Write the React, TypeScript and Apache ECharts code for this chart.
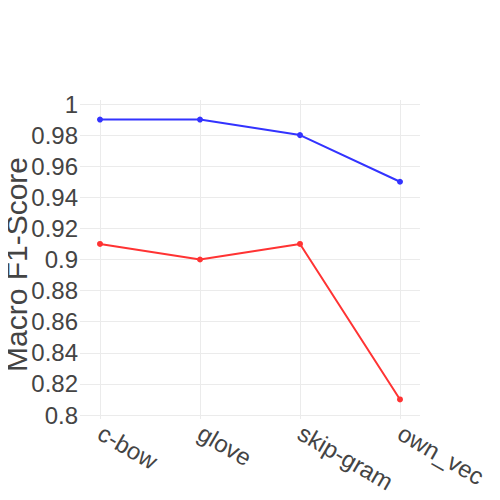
import React, { useEffect, useRef } from "react";
import * as echarts from "echarts";

const categories = ["c-bow", "glove", "skip-gram", "own_vec"];
const blueValues = [0.99, 0.99, 0.98, 0.95];
const redValues = [0.91, 0.9, 0.91, 0.81];
const yTicks = [0.8, 0.82, 0.84, 0.86, 0.88, 0.9, 0.92, 0.94, 0.96, 0.98, 1];
const xTicks = [0, 1, 2, 3];

export default function App() {
  const ref = useRef<HTMLDivElement>(null);
  useEffect(() => {
    if (!ref.current) return;
    const chart = echarts.init(ref.current, null, { renderer: "svg" });
    const font = "Liberation Sans, Arial, sans-serif";
    chart.setOption({
      animation: false,
      backgroundColor: "#fff",
      grid: {
        left: 80,
        right: 80,
        top: 100,
        bottom: 81,
        containLabel: false,
        outerBoundsMode: "none",
      },
      xAxis: {
        type: "value",
        min: -0.2,
        max: 3.2,
        axisLine: { show: false },
        axisTick: { show: false, customValues: xTicks },
        splitLine: { show: true, lineStyle: { color: "#ebebeb", width: 1 } },
        axisLabel: {
          customValues: xTicks,
          rotate: -30,
          margin: 12,
          fontSize: 24,
          color: "#444",
          fontFamily: font,
          formatter: (v: number) => categories[Math.round(v)] ?? "",
        },
      },
      yAxis: {
        type: "value",
        min: 0.8 - 4 / 1555,
        max: 1 + 4 / 1555,
        name: "Macro F1-Score",
        nameLocation: "middle",
        nameGap: 49,
        nameMoveOverlap: false,
        nameTextStyle: {
          fontSize: 30,
          color: "#444",
          fontFamily: font,
          padding: [0, 10, 0, 0],
        },
        axisLine: { show: false },
        axisTick: { show: false, customValues: yTicks },
        splitLine: { show: true, lineStyle: { color: "#ebebeb", width: 1 } },
        axisLabel: {
          customValues: yTicks,
          margin: 2,
          fontSize: 24,
          color: "#444",
          fontFamily: font,
          formatter: (v: number) => String(+v.toFixed(2)),
        },
      },
      series: [
        {
          type: "line",
          data: blueValues.map((v, i) => [xTicks[i], v]),
          symbol: "circle",
          symbolSize: 6,
          lineStyle: { color: "#3333ff", width: 2 },
          itemStyle: { color: "#3333ff" },
        },
        {
          type: "line",
          data: redValues.map((v, i) => [xTicks[i], v]),
          symbol: "circle",
          symbolSize: 6,
          lineStyle: { color: "#ff3333", width: 2 },
          itemStyle: { color: "#ff3333" },
        },
      ],
    });
    return () => chart.dispose();
  }, []);
  return <div ref={ref} style={{ width: 500, height: 500, margin: -8 }} />;
}
